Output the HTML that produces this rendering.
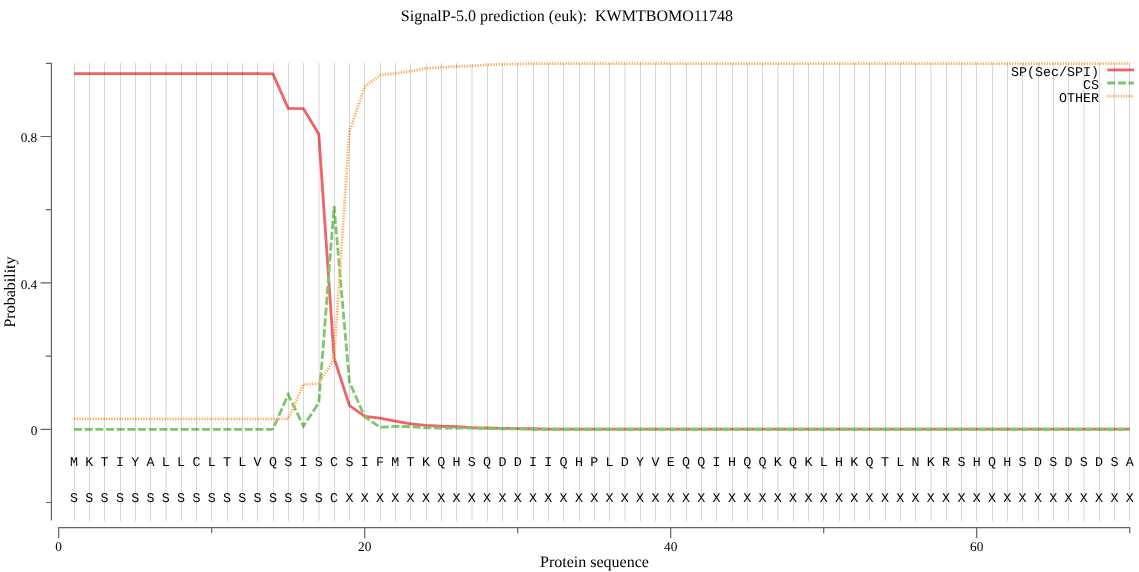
<!DOCTYPE html><html><head><meta charset="utf-8"><title>SignalP-5.0 prediction</title>
<style>html,body{margin:0;padding:0;background:#fff;}body{width:1139px;height:572px;overflow:hidden;}svg{display:block;will-change:transform;}text{fill:#000;text-rendering:geometricPrecision;}.se{font-family:"Liberation Serif",serif;}.mo{font-family:"Liberation Mono",monospace;}</style></head><body>
<svg width="1139" height="572" viewBox="0 0 1139 572">
<rect width="1139" height="572" fill="#fff"/>
<text class="se" x="567" y="20.7" font-size="16" text-anchor="middle" xml:space="preserve">SignalP-5.0 prediction (euk):  KWMTBOMO11748</text>
<g fill="none" stroke-width="2.8" stroke-linejoin="miter" stroke-linecap="butt">
<path d="M74.00 73.55 L89.30 73.55 L104.60 73.55 L119.90 73.55 L135.20 73.55 L150.50 73.55 L165.80 73.55 L181.10 73.55 L196.40 73.55 L211.70 73.55 L227.00 73.55 L242.30 73.55 L257.60 73.55 L272.90 73.91 L288.20 108.39 L303.50 108.61 L318.80 134.30 L334.10 357.93 L349.40 405.40 L364.70 416.49 L380.00 418.17 L395.30 421.17 L410.60 423.96 L425.90 425.38 L441.20 426.26 L456.50 426.77 L471.80 427.62 L487.10 428.02 L502.40 428.35 L517.70 428.57 L533.00 428.75 L548.30 429.15 L563.60 429.15 L578.90 429.15 L594.20 429.15 L609.50 429.15 L624.80 429.15 L640.10 429.15 L655.40 429.15 L670.70 429.15 L686.00 429.15 L701.30 429.15 L716.60 429.15 L731.90 429.15 L747.20 429.15 L762.50 429.15 L777.80 429.15 L793.10 429.15 L808.40 429.15 L823.70 429.15 L839.00 429.15 L854.30 429.15 L869.60 429.15 L884.90 429.15 L900.20 429.15 L915.50 429.15 L930.80 429.15 L946.10 429.15 L961.40 429.15 L976.70 429.15 L992.00 429.15 L1007.30 429.15 L1022.60 429.15 L1037.90 429.15 L1053.20 429.15 L1068.50 429.15 L1083.80 429.15 L1099.10 429.15 L1114.40 429.15 L1129.70 429.15" stroke="#f26368"/>
<path d="M74.00 429.30 L89.30 429.30 L104.60 429.30 L119.90 429.30 L135.20 429.30 L150.50 429.30 L165.80 429.30 L181.10 429.30 L196.40 429.30 L211.70 429.30 L227.00 429.30 L242.30 429.30 L257.60 429.30 L272.90 429.30" stroke="#80c66c" stroke-dasharray="8 2.67"/>
<path d="M272.90 429.30 L288.20 394.53 L303.50 426.19 L318.80 402.69 L334.10 206.41" stroke="#80c66c" stroke-dasharray="8.141 2.717" stroke-dashoffset="6.960"/>
<path d="M334.10 206.41 L349.40 381.90 L364.70 416.86 L380.00 427.29 L395.30 426.41 L410.60 426.59 L425.90 427.84 L441.20 428.02 L456.50 428.20 L471.80 428.20 L487.10 428.57 L502.40 428.75 L517.70 428.93 L533.00 429.23 L548.30 429.23 L563.60 429.23 L578.90 429.23 L594.20 429.23 L609.50 429.23 L624.80 429.23 L640.10 429.23 L655.40 429.23 L670.70 429.23 L686.00 429.23 L701.30 429.23 L716.60 429.23 L731.90 429.23 L747.20 429.23 L762.50 429.23 L777.80 429.23 L793.10 429.23 L808.40 429.23 L823.70 429.23 L839.00 429.23 L854.30 429.23 L869.60 429.23 L884.90 429.23 L900.20 429.23 L915.50 429.23 L930.80 429.23 L946.10 429.23 L961.40 429.23 L976.70 429.23 L992.00 429.23 L1007.30 429.23 L1022.60 429.23 L1037.90 429.23 L1053.20 429.23 L1068.50 429.23 L1083.80 429.23 L1099.10 429.23 L1114.40 429.23 L1129.70 429.23" stroke="#80c66c" stroke-dasharray="8 2.67" stroke-dashoffset="1.2"/>
<path d="M74.00 418.91 L89.30 418.91 L104.60 418.91 L119.90 418.91 L135.20 418.91 L150.50 418.91 L165.80 418.91 L181.10 418.91 L196.40 418.91 L211.70 418.91 L227.00 418.91 L242.30 418.91 L257.60 418.91 L272.90 418.91 L288.20 418.91 L303.50 384.39 L318.80 383.81 L334.10 358.81 L349.40 131.74 L364.70 86.61 L380.00 75.19 L395.30 73.40 L410.60 71.13 L425.90 68.31 L441.20 67.33 L456.50 66.59 L471.80 65.90 L487.10 64.84 L502.40 64.32 L517.70 64.03 L533.00 63.67 L548.30 63.67 L563.60 63.67 L578.90 63.67 L594.20 63.67 L609.50 63.67 L624.80 63.67 L640.10 63.67 L655.40 63.67 L670.70 63.67 L686.00 63.67 L701.30 63.67 L716.60 63.67 L731.90 63.67 L747.20 63.67 L762.50 63.67 L777.80 63.67 L793.10 63.67 L808.40 63.67 L823.70 63.67 L839.00 63.67 L854.30 63.67 L869.60 63.67 L884.90 63.67 L900.20 63.67 L915.50 63.67 L930.80 63.67 L946.10 63.67 L961.40 63.67 L976.70 63.67 L992.00 63.67 L1007.30 63.67 L1022.60 63.67 L1037.90 63.67 L1053.20 63.67 L1068.50 63.67 L1083.80 63.67 L1099.10 63.67 L1114.40 63.67 L1129.70 63.67" stroke="#fbb062" stroke-dasharray="1.33 1.33"/>
<path d="M1107.2 69.9H1134" stroke="#f26368"/>
<path d="M1107.2 83H1134" stroke="#80c66c" stroke-dasharray="8 2.67"/>
<path d="M1107.2 96.2H1134" stroke="#fbb062" stroke-dasharray="1.33 1.33"/>
</g>
<g class="mo" font-size="13.33" text-anchor="middle">
<text x="74.00" y="465.6">M</text>
<text x="89.30" y="465.6">K</text>
<text x="104.60" y="465.6">T</text>
<text x="119.90" y="465.6">I</text>
<text x="135.20" y="465.6">Y</text>
<text x="150.50" y="465.6">A</text>
<text x="165.80" y="465.6">L</text>
<text x="181.10" y="465.6">L</text>
<text x="196.40" y="465.6">C</text>
<text x="211.70" y="465.6">L</text>
<text x="227.00" y="465.6">T</text>
<text x="242.30" y="465.6">L</text>
<text x="257.60" y="465.6">V</text>
<text x="272.90" y="465.6">Q</text>
<text x="288.20" y="465.6">S</text>
<text x="303.50" y="465.6">I</text>
<text x="318.80" y="465.6">S</text>
<text x="334.10" y="465.6">C</text>
<text x="349.40" y="465.6">S</text>
<text x="364.70" y="465.6">I</text>
<text x="380.00" y="465.6">F</text>
<text x="395.30" y="465.6">M</text>
<text x="410.60" y="465.6">T</text>
<text x="425.90" y="465.6">K</text>
<text x="441.20" y="465.6">Q</text>
<text x="456.50" y="465.6">H</text>
<text x="471.80" y="465.6">S</text>
<text x="487.10" y="465.6">Q</text>
<text x="502.40" y="465.6">D</text>
<text x="517.70" y="465.6">D</text>
<text x="533.00" y="465.6">I</text>
<text x="548.30" y="465.6">I</text>
<text x="563.60" y="465.6">Q</text>
<text x="578.90" y="465.6">H</text>
<text x="594.20" y="465.6">P</text>
<text x="609.50" y="465.6">L</text>
<text x="624.80" y="465.6">D</text>
<text x="640.10" y="465.6">Y</text>
<text x="655.40" y="465.6">V</text>
<text x="670.70" y="465.6">E</text>
<text x="686.00" y="465.6">Q</text>
<text x="701.30" y="465.6">Q</text>
<text x="716.60" y="465.6">I</text>
<text x="731.90" y="465.6">H</text>
<text x="747.20" y="465.6">Q</text>
<text x="762.50" y="465.6">Q</text>
<text x="777.80" y="465.6">K</text>
<text x="793.10" y="465.6">Q</text>
<text x="808.40" y="465.6">K</text>
<text x="823.70" y="465.6">L</text>
<text x="839.00" y="465.6">H</text>
<text x="854.30" y="465.6">K</text>
<text x="869.60" y="465.6">Q</text>
<text x="884.90" y="465.6">T</text>
<text x="900.20" y="465.6">L</text>
<text x="915.50" y="465.6">N</text>
<text x="930.80" y="465.6">K</text>
<text x="946.10" y="465.6">R</text>
<text x="961.40" y="465.6">S</text>
<text x="976.70" y="465.6">H</text>
<text x="992.00" y="465.6">Q</text>
<text x="1007.30" y="465.6">H</text>
<text x="1022.60" y="465.6">S</text>
<text x="1037.90" y="465.6">D</text>
<text x="1053.20" y="465.6">S</text>
<text x="1068.50" y="465.6">D</text>
<text x="1083.80" y="465.6">S</text>
<text x="1099.10" y="465.6">D</text>
<text x="1114.40" y="465.6">S</text>
<text x="1129.70" y="465.6">A</text>
<text x="74.00" y="501.5">S</text>
<text x="89.30" y="501.5">S</text>
<text x="104.60" y="501.5">S</text>
<text x="119.90" y="501.5">S</text>
<text x="135.20" y="501.5">S</text>
<text x="150.50" y="501.5">S</text>
<text x="165.80" y="501.5">S</text>
<text x="181.10" y="501.5">S</text>
<text x="196.40" y="501.5">S</text>
<text x="211.70" y="501.5">S</text>
<text x="227.00" y="501.5">S</text>
<text x="242.30" y="501.5">S</text>
<text x="257.60" y="501.5">S</text>
<text x="272.90" y="501.5">S</text>
<text x="288.20" y="501.5">S</text>
<text x="303.50" y="501.5">S</text>
<text x="318.80" y="501.5">S</text>
<text x="334.10" y="501.5">C</text>
<text x="349.40" y="501.5">X</text>
<text x="364.70" y="501.5">X</text>
<text x="380.00" y="501.5">X</text>
<text x="395.30" y="501.5">X</text>
<text x="410.60" y="501.5">X</text>
<text x="425.90" y="501.5">X</text>
<text x="441.20" y="501.5">X</text>
<text x="456.50" y="501.5">X</text>
<text x="471.80" y="501.5">X</text>
<text x="487.10" y="501.5">X</text>
<text x="502.40" y="501.5">X</text>
<text x="517.70" y="501.5">X</text>
<text x="533.00" y="501.5">X</text>
<text x="548.30" y="501.5">X</text>
<text x="563.60" y="501.5">X</text>
<text x="578.90" y="501.5">X</text>
<text x="594.20" y="501.5">X</text>
<text x="609.50" y="501.5">X</text>
<text x="624.80" y="501.5">X</text>
<text x="640.10" y="501.5">X</text>
<text x="655.40" y="501.5">X</text>
<text x="670.70" y="501.5">X</text>
<text x="686.00" y="501.5">X</text>
<text x="701.30" y="501.5">X</text>
<text x="716.60" y="501.5">X</text>
<text x="731.90" y="501.5">X</text>
<text x="747.20" y="501.5">X</text>
<text x="762.50" y="501.5">X</text>
<text x="777.80" y="501.5">X</text>
<text x="793.10" y="501.5">X</text>
<text x="808.40" y="501.5">X</text>
<text x="823.70" y="501.5">X</text>
<text x="839.00" y="501.5">X</text>
<text x="854.30" y="501.5">X</text>
<text x="869.60" y="501.5">X</text>
<text x="884.90" y="501.5">X</text>
<text x="900.20" y="501.5">X</text>
<text x="915.50" y="501.5">X</text>
<text x="930.80" y="501.5">X</text>
<text x="946.10" y="501.5">X</text>
<text x="961.40" y="501.5">X</text>
<text x="976.70" y="501.5">X</text>
<text x="992.00" y="501.5">X</text>
<text x="1007.30" y="501.5">X</text>
<text x="1022.60" y="501.5">X</text>
<text x="1037.90" y="501.5">X</text>
<text x="1053.20" y="501.5">X</text>
<text x="1068.50" y="501.5">X</text>
<text x="1083.80" y="501.5">X</text>
<text x="1099.10" y="501.5">X</text>
<text x="1114.40" y="501.5">X</text>
<text x="1129.70" y="501.5">X</text>
</g>
<g class="mo" font-size="13.33" text-anchor="end">
<text x="1099" y="75.6">SP(Sec/SPI)</text>
<text x="1099" y="88.8">CS</text>
<text x="1099" y="102">OTHER</text>
</g>
<g fill="rgba(0,0,0,0.155)" shape-rendering="crispEdges">
<rect x="74" y="63" width="1" height="457.7"/>
<rect x="89" y="63" width="1" height="457.7"/>
<rect x="104" y="63" width="1" height="457.7"/>
<rect x="120" y="63" width="1" height="457.7"/>
<rect x="135" y="63" width="1" height="457.7"/>
<rect x="150" y="63" width="1" height="457.7"/>
<rect x="165" y="63" width="2" height="457.7" fill-opacity="0.5"/>
<rect x="181" y="63" width="1" height="457.7"/>
<rect x="196" y="63" width="1" height="457.7"/>
<rect x="211" y="63" width="1" height="457.7"/>
<rect x="227" y="63" width="1" height="457.7"/>
<rect x="242" y="63" width="1" height="457.7"/>
<rect x="257" y="63" width="1" height="457.7"/>
<rect x="273" y="63" width="1" height="457.7"/>
<rect x="288" y="63" width="1" height="457.7"/>
<rect x="303" y="63" width="1" height="457.7"/>
<rect x="318" y="63" width="2" height="457.7" fill-opacity="0.5"/>
<rect x="334" y="63" width="1" height="457.7"/>
<rect x="349" y="63" width="1" height="457.7"/>
<rect x="364" y="63" width="1" height="457.7"/>
<rect x="380" y="63" width="1" height="457.7"/>
<rect x="395" y="63" width="1" height="457.7"/>
<rect x="410" y="63" width="1" height="457.7"/>
<rect x="426" y="63" width="1" height="457.7"/>
<rect x="441" y="63" width="1" height="457.7"/>
<rect x="456" y="63" width="1" height="457.7"/>
<rect x="471" y="63" width="2" height="457.7" fill-opacity="0.5"/>
<rect x="487" y="63" width="1" height="457.7"/>
<rect x="502" y="63" width="1" height="457.7"/>
<rect x="517" y="63" width="1" height="457.7"/>
<rect x="533" y="63" width="1" height="457.7"/>
<rect x="548" y="63" width="1" height="457.7"/>
<rect x="563" y="63" width="1" height="457.7"/>
<rect x="579" y="63" width="1" height="457.7"/>
<rect x="594" y="63" width="1" height="457.7"/>
<rect x="609" y="63" width="1" height="457.7"/>
<rect x="624" y="63" width="2" height="457.7" fill-opacity="0.5"/>
<rect x="640" y="63" width="1" height="457.7"/>
<rect x="655" y="63" width="1" height="457.7"/>
<rect x="670" y="63" width="1" height="457.7"/>
<rect x="686" y="63" width="1" height="457.7"/>
<rect x="701" y="63" width="1" height="457.7"/>
<rect x="716" y="63" width="1" height="457.7"/>
<rect x="732" y="63" width="1" height="457.7"/>
<rect x="747" y="63" width="1" height="457.7"/>
<rect x="762" y="63" width="1" height="457.7"/>
<rect x="777" y="63" width="2" height="457.7" fill-opacity="0.5"/>
<rect x="793" y="63" width="1" height="457.7"/>
<rect x="808" y="63" width="1" height="457.7"/>
<rect x="823" y="63" width="1" height="457.7"/>
<rect x="839" y="63" width="1" height="457.7"/>
<rect x="854" y="63" width="1" height="457.7"/>
<rect x="869" y="63" width="1" height="457.7"/>
<rect x="885" y="63" width="1" height="457.7"/>
<rect x="900" y="63" width="1" height="457.7"/>
<rect x="915" y="63" width="1" height="457.7"/>
<rect x="930" y="63" width="2" height="457.7" fill-opacity="0.5"/>
<rect x="946" y="63" width="1" height="457.7"/>
<rect x="961" y="63" width="1" height="457.7"/>
<rect x="976" y="63" width="1" height="457.7"/>
<rect x="992" y="63" width="1" height="457.7"/>
<rect x="1007" y="63" width="1" height="457.7"/>
<rect x="1022" y="63" width="1" height="457.7"/>
<rect x="1038" y="63" width="1" height="457.7"/>
<rect x="1053" y="63" width="1" height="457.7"/>
<rect x="1068" y="63" width="1" height="457.7"/>
<rect x="1083" y="63" width="2" height="457.7" fill-opacity="0.5"/>
<rect x="1099" y="63" width="1" height="457.7"/>
<rect x="1114" y="63" width="1" height="457.7"/>
<rect x="1129" y="63" width="1" height="457.7"/>
</g>
<g fill="none" stroke="#646464" stroke-width="1.2">
<path d="M51.4 62.8V520.6M45.8 63.30H51.4M40.5 136.50H51.4M45.8 209.70H51.4M40.5 282.90H51.4M45.8 356.10H51.4M40.5 429.30H51.4M45.8 502.50H51.4"/>
<path d="M58.1 527.6H1130.3M58.70 527.6V538.2M211.70 527.6V533.2M364.70 527.6V538.2M517.70 527.6V533.2M670.70 527.6V538.2M823.70 527.6V533.2M976.70 527.6V538.2M1129.70 527.6V533.2"/>
</g>
<g class="se" font-size="13.33">
<text x="58.70" y="551.2" text-anchor="middle">0</text>
<text x="364.70" y="551.2" text-anchor="middle">20</text>
<text x="670.70" y="551.2" text-anchor="middle">40</text>
<text x="976.70" y="551.2" text-anchor="middle">60</text>
<text x="37.3" y="142.40" text-anchor="end">0.8</text>
<text x="37.3" y="288.80" text-anchor="end">0.4</text>
<text x="37.3" y="435.20" text-anchor="end">0</text>
</g>
<text class="se" x="594.5" y="567" font-size="16" text-anchor="middle">Protein sequence</text>
<text class="se" font-size="16" text-anchor="middle" transform="translate(14.8 292) rotate(-90)">Probability</text>
</svg></body></html>
